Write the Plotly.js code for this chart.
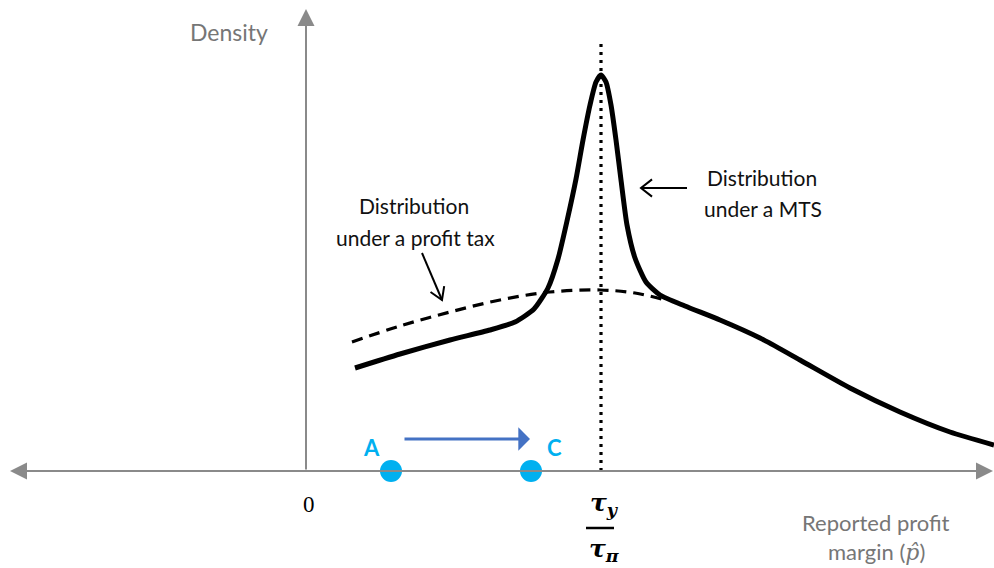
<!DOCTYPE html>
<html>
<head>
<meta charset="utf-8">
<script src="https://cdn.plot.ly/plotly-3.0.1.min.js"></script>
<style>
  html, body { margin: 0; padding: 0; background: #fff; }
  #chart { width: 994px; height: 568px; }
</style>
</head>
<body>
<div id="chart"></div>
<script>
// Reported profit margin (x) and density (y), arbitrary units, origin at 0.
// Density under a minimum tax scheme (MTS): bunching spike at tau_y / tau_pi.
const mtsX = [0.49, 0.94, 1.44, 1.84, 2.09, 2.28, 2.42, 2.52, 2.61, 2.70, 2.77, 2.84, 2.90, 2.95,
              3.00, 3.05, 3.10, 3.15, 3.21, 3.29, 3.40, 3.54, 3.79, 4.14, 4.54, 4.94, 5.44, 5.94, 6.44, 6.88];
const mtsY = [1.03, 1.17, 1.31, 1.41, 1.49, 1.62, 1.83, 2.12, 2.50, 2.92, 3.31, 3.66, 3.89, 3.96,
              3.89, 3.66, 3.31, 2.91, 2.46, 2.13, 1.89, 1.76, 1.65, 1.51, 1.33, 1.11, 0.83, 0.59, 0.39, 0.26];

// Density under a standard profit tax.
const taxX = [0.46, 0.94, 1.44, 1.94, 2.44, 2.94, 3.29, 3.59];
const taxY = [1.29, 1.45, 1.59, 1.71, 1.79, 1.81, 1.78, 1.71];

// Kink point tau_y / tau_pi and the height of its marker line.
const tauX = 2.95;
const tauTop = 4.31;

// Firms shifting from A to C.
const firmX = [0.85, 2.25];
const firmY = [0, 0];
const firmLabels = ['A', 'C'];

// Axis extents.
const xMin = -3.06, xMax = 6.88;
const yMin = -0.97, yMax = 4.71;

const axisGrey = '#8a8a8a';
const textGrey = '#767676';
const cyan = '#00B0F0';
const blue = '#4472C4';
const sans = 'Lato, "Open Sans", sans-serif';
const serif = '"Liberation Serif", "DejaVu Serif", serif';

// Open "V" arrow head drawn as polyline from tail to head.
function openArrow(tail, head, len, deg) {
  const dx = tail[0] - head[0], dy = tail[1] - head[1];
  const n = Math.hypot(dx, dy);
  const ux = dx / n, uy = dy / n;
  const a = deg * Math.PI / 180;
  const rot = (s) => [ux * Math.cos(s * a) - uy * Math.sin(s * a),
                      ux * Math.sin(s * a) + uy * Math.cos(s * a)];
  const w1 = rot(1), w2 = rot(-1);
  return {
    x: [tail[0], head[0], null, head[0] + w1[0] * len, head[0], head[0] + w2[0] * len],
    y: [tail[1], head[1], null, head[1] + w1[1] * len, head[1], head[1] + w2[1] * len]
  };
}

const taxArrow = openArrow([1.16, 2.18], [1.36, 1.71], 0.14, 32);
const mtsArrow = openArrow([3.81, 2.83], [3.35, 2.83], 0.14, 38);

const traces = [
  {
    x: [tauX, tauX], y: [0, tauTop], mode: 'lines',
    line: { color: '#000', width: 3.2, dash: '3px,5px' }, hoverinfo: 'skip'
  },
  {
    x: taxX, y: taxY, mode: 'lines',
    line: { color: '#000', width: 3.2, dash: '11px,7px', shape: 'spline', smoothing: 1 }, hoverinfo: 'skip'
  },
  {
    x: mtsX, y: mtsY, mode: 'lines',
    line: { color: '#000', width: 5, shape: 'spline', smoothing: 0.6 }, hoverinfo: 'skip'
  },
  {
    x: taxArrow.x, y: taxArrow.y, mode: 'lines',
    line: { color: '#000', width: 2 }, hoverinfo: 'skip'
  },
  {
    x: mtsArrow.x, y: mtsArrow.y, mode: 'lines',
    line: { color: '#000', width: 2 }, hoverinfo: 'skip'
  },
  {
    // fraction bar under tau_y
    x: [tauX - 0.15, tauX + 0.13], y: [-0.57, -0.57], mode: 'lines',
    line: { color: '#000', width: 2.5 }, hoverinfo: 'skip'
  },
  {
    x: firmX, y: firmY, mode: 'markers',
    marker: { color: cyan, size: 22 }, hoverinfo: 'skip'
  }
];

function label(x, y, text, opts) {
  return Object.assign({
    x: x, y: y, xref: 'x', yref: 'y', text: text, showarrow: false,
    font: { family: sans, size: 21, color: '#111' }
  }, opts || {});
}

function axisArrow(hx, hy, tx, ty) {
  return {
    x: hx, y: hy, ax: tx, ay: ty, xref: 'x', yref: 'y', axref: 'x', ayref: 'y',
    text: '', showarrow: true, arrowhead: 2, arrowsize: 1.7, arrowwidth: 2,
    arrowcolor: axisGrey, standoff: 0
  };
}

const annotations = [
  axisArrow(-2.96, 0, 3, 0),
  axisArrow(6.87, 0, -2, 0),
  axisArrow(0, 4.62, 0, 0),
  {
    x: firmX[1] - 0.01, y: 0.32, ax: firmX[0] + 0.12, ay: 0.32,
    xref: 'x', yref: 'y', axref: 'x', ayref: 'y', text: '', showarrow: true,
    arrowhead: 1, arrowsize: 1.3, arrowwidth: 3, arrowcolor: blue, standoff: 0
  },
  label(firmX[0], firmY[0], '<b>' + firmLabels[0] + '</b>',
        { xshift: -20, yshift: 24, font: { family: sans, size: 22, color: cyan } }),
  label(firmX[1], firmY[1], '<b>' + firmLabels[1] + '</b>',
        { xshift: 23, yshift: 24, font: { family: sans, size: 22, color: cyan } }),
  label(-0.77, 4.39, 'Density', { font: { family: sans, size: 23, color: textGrey } }),
  label(1.08, 2.66, 'Distribution'),
  label(1.09, 2.34, 'under a profit tax'),
  label(4.56, 2.94, 'Distribution'),
  label(4.57, 2.63, 'under a MTS'),
  label(0.03, -0.33, '0', { font: { family: serif, size: 23, color: '#000' } }),
  label(tauX + 0.03, -0.33, '<b><i>τ<sub>y</sub></i></b>',
        { font: { family: '"DejaVu Serif", serif', size: 25, color: '#000' } }),
  label(tauX + 0.03, -0.79, '<b><i>τ<sub>π</sub></i></b>',
        { font: { family: '"DejaVu Serif", serif', size: 25, color: '#000' } }),
  label(5.70, -0.51, 'Reported profit', { font: { family: sans, size: 22, color: textGrey } }),
  label(5.70, -0.80, 'margin (<span style="font-family:\'DejaVu Serif\'"><i>p̂</i></span>)',
        { font: { family: sans, size: 22, color: textGrey } })
];

const layout = {
  width: 994, height: 568,
  margin: { l: 0, r: 0, t: 0, b: 0 },
  paper_bgcolor: '#fff', plot_bgcolor: '#fff',
  showlegend: false,
  xaxis: { range: [xMin, xMax], visible: false, fixedrange: true },
  yaxis: { range: [yMin, yMax], visible: false, fixedrange: true },
  annotations: annotations
};

Plotly.newPlot('chart', traces, layout, { staticPlot: true });
</script>
</body>
</html>
